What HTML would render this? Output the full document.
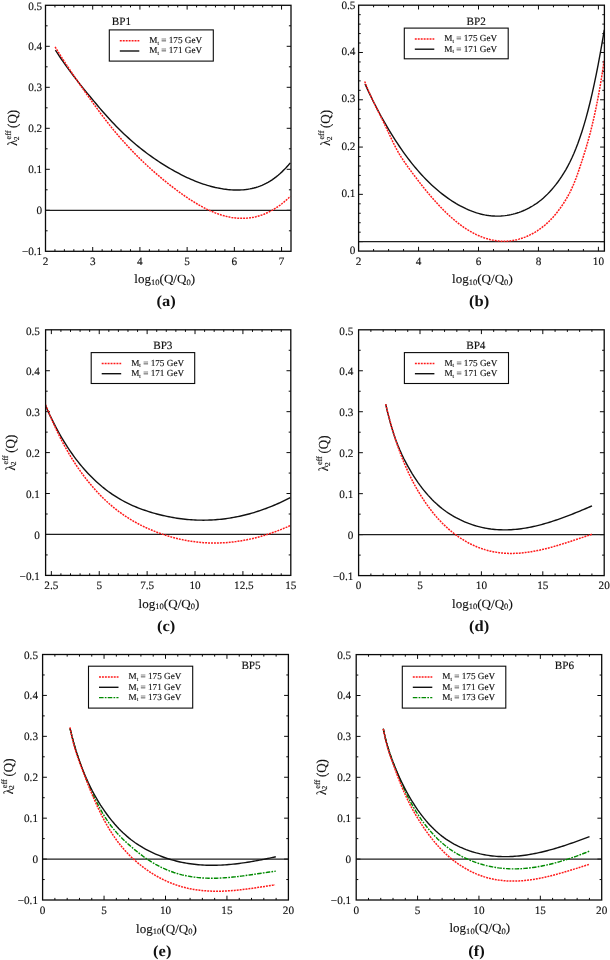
<!DOCTYPE html>
<html><head><meta charset="utf-8"><style>
html,body{margin:0;padding:0;background:#fff;}
body{width:610px;height:960px;overflow:hidden;}
svg{display:block;will-change:transform;}
text{font-family:"Liberation Serif", serif;fill:#111;stroke:#111;stroke-width:0.14px;text-rendering:geometricPrecision;}
.tk{font-size:11.2px;}
.ti{font-size:11.2px;}
.lg{font-size:9.2px;}
.ax{font-size:12.5px;}
.cp{font-size:15.4px;font-weight:bold;stroke-width:0;}
</style></head><body>
<svg width="610" height="960" viewBox="0 0 610 960">
<rect width="610" height="960" fill="#fff"/>
<g id="pa">
<path d="M54.94 251.3v-2.1M54.94 5.3v2.1M64.38 251.3v-2.1M64.38 5.3v2.1M73.83 251.3v-2.1M73.83 5.3v2.1M83.27 251.3v-2.1M83.27 5.3v2.1M92.71 251.3v-4.3M92.71 5.3v4.3M102.15 251.3v-2.1M102.15 5.3v2.1M111.6 251.3v-2.1M111.6 5.3v2.1M121.04 251.3v-2.1M121.04 5.3v2.1M130.48 251.3v-2.1M130.48 5.3v2.1M139.92 251.3v-4.3M139.92 5.3v4.3M149.37 251.3v-2.1M149.37 5.3v2.1M158.81 251.3v-2.1M158.81 5.3v2.1M168.25 251.3v-2.1M168.25 5.3v2.1M177.69 251.3v-2.1M177.69 5.3v2.1M187.13 251.3v-4.3M187.13 5.3v4.3M196.58 251.3v-2.1M196.58 5.3v2.1M206.02 251.3v-2.1M206.02 5.3v2.1M215.46 251.3v-2.1M215.46 5.3v2.1M224.9 251.3v-2.1M224.9 5.3v2.1M234.35 251.3v-4.3M234.35 5.3v4.3M243.79 251.3v-2.1M243.79 5.3v2.1M253.23 251.3v-2.1M253.23 5.3v2.1M262.67 251.3v-2.1M262.67 5.3v2.1M272.12 251.3v-2.1M272.12 5.3v2.1M281.56 251.3v-4.3M281.56 5.3v4.3M45.5 230.8h2.1M291 230.8h-2.1M45.5 210.3h4.3M291 210.3h-4.3M45.5 189.8h2.1M291 189.8h-2.1M45.5 169.3h4.3M291 169.3h-4.3M45.5 148.8h2.1M291 148.8h-2.1M45.5 128.3h4.3M291 128.3h-4.3M45.5 107.8h2.1M291 107.8h-2.1M45.5 87.3h4.3M291 87.3h-4.3M45.5 66.8h2.1M291 66.8h-2.1M45.5 46.3h4.3M291 46.3h-4.3M45.5 25.8h2.1M291 25.8h-2.1" stroke="#0a0a0a" stroke-width="1.0" fill="none"/>
<path d="M45.5 210.3H291" stroke="#1e1e1e" stroke-width="1.3" fill="none"/>
<path d="M55.4 50.09 L57.42 53.2 L59.45 56.25 L61.47 59.24 L63.5 62.17 L65.53 65.04 L67.55 67.86 L69.58 70.63 L71.6 73.35 L73.62 76.03 L75.65 78.67 L77.67 81.27 L79.7 83.84 L81.72 86.38 L83.75 88.89 L85.78 91.38 L87.8 93.85 L89.82 96.29 L91.85 98.73 L93.88 101.15 L95.9 103.56 L97.92 105.96 L99.95 108.34 L101.97 110.69 L104 113.02 L106.03 115.31 L108.05 117.57 L110.07 119.79 L112.1 121.96 L114.12 124.09 L116.15 126.18 L118.17 128.23 L120.2 130.24 L122.22 132.21 L124.25 134.14 L126.28 136.03 L128.3 137.88 L130.32 139.7 L132.35 141.48 L134.38 143.22 L136.4 144.93 L138.42 146.6 L140.45 148.23 L142.47 149.84 L144.5 151.4 L146.53 152.94 L148.55 154.44 L150.57 155.91 L152.6 157.36 L154.62 158.76 L156.65 160.14 L158.67 161.5 L160.7 162.82 L162.72 164.11 L164.75 165.38 L166.78 166.61 L168.8 167.83 L170.82 169.01 L172.85 170.17 L174.88 171.3 L176.9 172.41 L178.92 173.49 L180.95 174.54 L182.97 175.56 L185 176.55 L187.03 177.51 L189.05 178.44 L191.07 179.34 L193.1 180.21 L195.12 181.04 L197.15 181.84 L199.18 182.61 L201.2 183.34 L203.22 184.04 L205.25 184.7 L207.28 185.33 L209.3 185.92 L211.32 186.47 L213.35 186.99 L215.38 187.47 L217.4 187.9 L219.43 188.3 L221.45 188.66 L223.47 188.98 L225.5 189.25 L227.53 189.49 L229.55 189.68 L231.57 189.83 L233.6 189.93 L235.62 189.99 L237.65 190 L239.68 189.97 L241.7 189.88 L243.72 189.73 L245.75 189.52 L247.78 189.25 L249.8 188.91 L251.82 188.5 L253.85 188.02 L255.88 187.46 L257.9 186.82 L259.92 186.09 L261.95 185.28 L263.97 184.38 L266 183.38 L268.02 182.29 L270.05 181.09 L272.07 179.8 L274.1 178.39 L276.12 176.87 L278.15 175.24 L280.17 173.49 L282.2 171.62 L284.22 169.62 L286.25 167.49 L288.27 165.24 L290.3 162.85" stroke="#111" stroke-width="1.4" fill="none"/>
<path d="M55.1 46.91 L57.13 50.18 L59.16 53.41 L61.18 56.6 L63.21 59.76 L65.24 62.88 L67.27 65.96 L69.29 69.01 L71.32 72.04 L73.35 75.03 L75.38 78 L77.4 80.95 L79.43 83.87 L81.46 86.77 L83.49 89.66 L85.51 92.52 L87.54 95.37 L89.57 98.21 L91.6 101.04 L93.62 103.85 L95.65 106.65 L97.68 109.43 L99.71 112.18 L101.73 114.9 L103.76 117.58 L105.79 120.22 L107.82 122.82 L109.84 125.37 L111.87 127.89 L113.9 130.36 L115.93 132.79 L117.96 135.18 L119.98 137.53 L122.01 139.84 L124.04 142.12 L126.07 144.36 L128.09 146.56 L130.12 148.72 L132.15 150.85 L134.18 152.95 L136.2 155.01 L138.23 157.04 L140.26 159.04 L142.29 161 L144.31 162.94 L146.34 164.84 L148.37 166.71 L150.4 168.56 L152.42 170.38 L154.45 172.17 L156.48 173.93 L158.51 175.67 L160.53 177.38 L162.56 179.07 L164.59 180.74 L166.62 182.38 L168.64 184 L170.67 185.59 L172.7 187.17 L174.73 188.72 L176.76 190.25 L178.78 191.75 L180.81 193.22 L182.84 194.67 L184.87 196.08 L186.89 197.47 L188.92 198.82 L190.95 200.14 L192.98 201.42 L195 202.67 L197.03 203.88 L199.06 205.05 L201.09 206.18 L203.11 207.27 L205.14 208.31 L207.17 209.32 L209.2 210.27 L211.22 211.18 L213.25 212.04 L215.28 212.86 L217.31 213.62 L219.33 214.33 L221.36 214.99 L223.39 215.59 L225.42 216.13 L227.44 216.62 L229.47 217.05 L231.5 217.43 L233.53 217.74 L235.56 217.98 L237.58 218.17 L239.61 218.29 L241.64 218.34 L243.67 218.33 L245.69 218.24 L247.72 218.09 L249.75 217.86 L251.78 217.57 L253.8 217.19 L255.83 216.75 L257.86 216.22 L259.89 215.62 L261.91 214.94 L263.94 214.18 L265.97 213.34 L268 212.41 L270.02 211.4 L272.05 210.3 L274.08 209.12 L276.11 207.85 L278.13 206.48 L280.16 205.03 L282.19 203.49 L284.22 201.85 L286.24 200.11 L288.27 198.28 L290.3 196.36" stroke="#ff1a1a" stroke-width="1.5" stroke-dasharray="1.95 1" fill="none"/>
<rect x="45.5" y="5.3" width="245.5" height="246" stroke="#0a0a0a" stroke-width="1.3" fill="none"/>
<text x="45.5" y="264.9" text-anchor="middle" class="tk">2</text>
<text x="92.71" y="264.9" text-anchor="middle" class="tk">3</text>
<text x="139.92" y="264.9" text-anchor="middle" class="tk">4</text>
<text x="187.13" y="264.9" text-anchor="middle" class="tk">5</text>
<text x="234.35" y="264.9" text-anchor="middle" class="tk">6</text>
<text x="281.56" y="264.9" text-anchor="middle" class="tk">7</text>
<text x="42.2" y="255.1" text-anchor="end" class="tk">−0.1</text>
<text x="42.2" y="214.1" text-anchor="end" class="tk">0</text>
<text x="42.2" y="173.1" text-anchor="end" class="tk">0.1</text>
<text x="42.2" y="132.1" text-anchor="end" class="tk">0.2</text>
<text x="42.2" y="91.1" text-anchor="end" class="tk">0.3</text>
<text x="42.2" y="50.1" text-anchor="end" class="tk">0.4</text>
<text x="42.2" y="9.9" text-anchor="end" class="tk">0.5</text>
<text x="111.8" y="25.1" class="ti">BP1</text>
<rect x="109.3" y="29.9" width="104" height="31.2" stroke="#0a0a0a" stroke-width="1.1" fill="none"/>
<path d="M119.8 40.7H139.3" stroke="#ff1a1a" stroke-width="1.5" stroke-dasharray="1.95 1" fill="none"/>
<text x="149.3" y="43" class="lg">M<tspan font-size="5.5" dy="1.5">t</tspan><tspan dy="-1.5"> = 175 GeV</tspan></text>
<path d="M119.8 51H139.3" stroke="#111" stroke-width="1.4" fill="none"/>
<text x="149.3" y="53.3" class="lg">M<tspan font-size="5.5" dy="1.5">t</tspan><tspan dy="-1.5"> = 171 GeV</tspan></text>
<g transform="translate(17.1 128.1) rotate(-90)" class="ax"><text x="-17.6" y="0" transform="scale(1 1.1)">λ</text><text x="-11.4" y="-6.4" font-size="8.2">eff</text><text x="-12.2" y="1.4" font-size="7.6">2</text><text x="0.2" y="0" font-size="13" transform="scale(1 1.06)">(Q)</text></g>
<text transform="translate(134.3 283.2) scale(1.045 1)" class="ax">log<tspan font-size="8.2" dy="1.5">10</tspan><tspan dy="-1.5">(Q/Q</tspan><tspan font-size="8.2" dy="1.5">0</tspan><tspan dy="-1.5">)</tspan></text>
<text transform="translate(156.6 306.3) scale(1.07 1)" class="cp">(a)</text>
</g>
<g id="pb">
<path d="M373.59 251.1v-2.1M373.59 5.2v2.1M388.58 251.1v-2.1M388.58 5.2v2.1M403.56 251.1v-2.1M403.56 5.2v2.1M418.55 251.1v-4.3M418.55 5.2v4.3M433.54 251.1v-2.1M433.54 5.2v2.1M448.53 251.1v-2.1M448.53 5.2v2.1M463.51 251.1v-2.1M463.51 5.2v2.1M478.5 251.1v-4.3M478.5 5.2v4.3M493.49 251.1v-2.1M493.49 5.2v2.1M508.48 251.1v-2.1M508.48 5.2v2.1M523.47 251.1v-2.1M523.47 5.2v2.1M538.45 251.1v-4.3M538.45 5.2v4.3M553.44 251.1v-2.1M553.44 5.2v2.1M568.43 251.1v-2.1M568.43 5.2v2.1M583.42 251.1v-2.1M583.42 5.2v2.1M598.4 251.1v-4.3M598.4 5.2v4.3M358.6 241.64h4.3M604.4 241.64h-4.3M358.6 232.18h2.1M604.4 232.18h-2.1M358.6 222.73h2.1M604.4 222.73h-2.1M358.6 213.27h2.1M604.4 213.27h-2.1M358.6 203.81h2.1M604.4 203.81h-2.1M358.6 194.35h4.3M604.4 194.35h-4.3M358.6 184.9h2.1M604.4 184.9h-2.1M358.6 175.44h2.1M604.4 175.44h-2.1M358.6 165.98h2.1M604.4 165.98h-2.1M358.6 156.52h2.1M604.4 156.52h-2.1M358.6 147.07h4.3M604.4 147.07h-4.3M358.6 137.61h2.1M604.4 137.61h-2.1M358.6 128.15h2.1M604.4 128.15h-2.1M358.6 118.69h2.1M604.4 118.69h-2.1M358.6 109.23h2.1M604.4 109.23h-2.1M358.6 99.78h4.3M604.4 99.78h-4.3M358.6 90.32h2.1M604.4 90.32h-2.1M358.6 80.86h2.1M604.4 80.86h-2.1M358.6 71.4h2.1M604.4 71.4h-2.1M358.6 61.95h2.1M604.4 61.95h-2.1M358.6 52.49h4.3M604.4 52.49h-4.3M358.6 43.03h2.1M604.4 43.03h-2.1M358.6 33.57h2.1M604.4 33.57h-2.1M358.6 24.12h2.1M604.4 24.12h-2.1M358.6 14.66h2.1M604.4 14.66h-2.1" stroke="#0a0a0a" stroke-width="1.0" fill="none"/>
<path d="M358.6 241.64H604.4" stroke="#1e1e1e" stroke-width="1.3" fill="none"/>
<path d="M365 84.06 L367.03 88.42 L369.06 92.69 L371.08 96.87 L373.11 100.96 L375.14 104.96 L377.17 108.88 L379.2 112.71 L381.22 116.46 L383.25 120.12 L385.28 123.7 L387.31 127.2 L389.34 130.61 L391.36 133.95 L393.39 137.2 L395.42 140.38 L397.45 143.48 L399.48 146.5 L401.5 149.45 L403.53 152.32 L405.56 155.12 L407.59 157.85 L409.62 160.5 L411.64 163.08 L413.67 165.59 L415.7 168.03 L417.73 170.4 L419.76 172.71 L421.78 174.95 L423.81 177.12 L425.84 179.22 L427.87 181.27 L429.89 183.24 L431.92 185.16 L433.95 187.02 L435.98 188.81 L438.01 190.55 L440.03 192.22 L442.06 193.84 L444.09 195.4 L446.12 196.91 L448.15 198.36 L450.17 199.75 L452.2 201.1 L454.23 202.38 L456.26 203.62 L458.29 204.79 L460.31 205.92 L462.34 206.98 L464.37 207.99 L466.4 208.95 L468.43 209.84 L470.45 210.68 L472.48 211.46 L474.51 212.18 L476.54 212.84 L478.57 213.45 L480.59 213.99 L482.62 214.47 L484.65 214.89 L486.68 215.25 L488.71 215.55 L490.73 215.79 L492.76 215.96 L494.79 216.07 L496.82 216.12 L498.85 216.1 L500.87 216.02 L502.9 215.87 L504.93 215.66 L506.96 215.38 L508.99 215.04 L511.01 214.63 L513.04 214.15 L515.07 213.61 L517.1 212.99 L519.13 212.31 L521.15 211.56 L523.18 210.75 L525.21 209.86 L527.24 208.89 L529.27 207.85 L531.29 206.73 L533.32 205.52 L535.35 204.21 L537.38 202.81 L539.41 201.3 L541.43 199.68 L543.46 197.95 L545.49 196.1 L547.52 194.13 L549.54 192.02 L551.57 189.79 L553.6 187.41 L555.63 184.89 L557.66 182.21 L559.68 179.39 L561.71 176.39 L563.74 173.2 L565.77 169.79 L567.8 166.14 L569.82 162.21 L571.85 157.98 L573.88 153.43 L575.91 148.53 L577.94 143.25 L579.96 137.57 L581.99 131.45 L584.02 124.88 L586.05 117.84 L588.08 110.3 L590.1 102.23 L592.13 93.63 L594.16 84.46 L596.19 74.72 L598.22 64.4 L600.24 53.48 L602.27 41.94 L604.3 29.79" stroke="#111" stroke-width="1.4" fill="none"/>
<path d="M364.7 81.52 L366.73 86.61 L368.76 91.42 L370.79 96.01 L372.82 100.4 L374.85 104.65 L376.88 108.79 L378.91 112.87 L380.94 116.94 L382.97 121.03 L385 125.18 L387.03 129.45 L389.06 133.79 L391.09 138.14 L393.12 142.39 L395.14 146.46 L397.17 150.27 L399.2 153.81 L401.23 157.12 L403.26 160.23 L405.29 163.2 L407.32 166.06 L409.35 168.85 L411.38 171.62 L413.41 174.35 L415.44 177.05 L417.47 179.71 L419.5 182.34 L421.53 184.93 L423.56 187.49 L425.59 190 L427.62 192.46 L429.65 194.88 L431.68 197.26 L433.71 199.58 L435.74 201.86 L437.77 204.08 L439.8 206.25 L441.83 208.37 L443.86 210.42 L445.89 212.42 L447.92 214.36 L449.95 216.23 L451.98 218.04 L454.01 219.78 L456.03 221.46 L458.06 223.07 L460.09 224.62 L462.12 226.1 L464.15 227.52 L466.18 228.87 L468.21 230.15 L470.24 231.36 L472.27 232.5 L474.3 233.58 L476.33 234.59 L478.36 235.53 L480.39 236.39 L482.42 237.19 L484.45 237.92 L486.48 238.58 L488.51 239.16 L490.54 239.68 L492.57 240.12 L494.6 240.49 L496.63 240.79 L498.66 241.01 L500.69 241.16 L502.72 241.24 L504.75 241.24 L506.78 241.17 L508.81 241.02 L510.84 240.8 L512.87 240.5 L514.89 240.12 L516.92 239.67 L518.95 239.14 L520.98 238.54 L523.01 237.85 L525.04 237.09 L527.07 236.25 L529.1 235.33 L531.13 234.34 L533.16 233.26 L535.19 232.09 L537.22 230.83 L539.25 229.47 L541.28 228 L543.31 226.43 L545.34 224.73 L547.37 222.92 L549.4 220.97 L551.43 218.89 L553.46 216.67 L555.49 214.3 L557.52 211.77 L559.55 209.09 L561.58 206.24 L563.61 203.22 L565.64 200.01 L567.67 196.54 L569.7 192.75 L571.73 188.58 L573.76 183.98 L575.78 178.87 L577.81 173.28 L579.84 167.36 L581.87 161.23 L583.9 154.91 L585.93 148.29 L587.96 141.3 L589.99 133.83 L592.02 125.79 L594.05 117.11 L596.08 107.66 L598.11 97.37 L600.14 86.12 L602.17 73.8 L604.2 60.3" stroke="#ff1a1a" stroke-width="1.5" stroke-dasharray="1.95 1" fill="none"/>
<rect x="358.6" y="5.2" width="245.8" height="245.9" stroke="#0a0a0a" stroke-width="1.3" fill="none"/>
<text x="358.6" y="264.7" text-anchor="middle" class="tk">2</text>
<text x="418.55" y="264.7" text-anchor="middle" class="tk">4</text>
<text x="478.5" y="264.7" text-anchor="middle" class="tk">6</text>
<text x="538.45" y="264.7" text-anchor="middle" class="tk">8</text>
<text x="598.4" y="264.7" text-anchor="middle" class="tk">10</text>
<text x="355.4" y="196.85" text-anchor="end" class="tk">0.1</text>
<text x="355.4" y="149.57" text-anchor="end" class="tk">0.2</text>
<text x="355.4" y="102.28" text-anchor="end" class="tk">0.3</text>
<text x="355.4" y="54.99" text-anchor="end" class="tk">0.4</text>
<text x="355.4" y="8.5" text-anchor="end" class="tk">0.5</text>
<text x="355.4" y="253.6" text-anchor="end" class="tk">0</text>
<text x="466.5" y="24.8" class="ti">BP2</text>
<rect x="404.3" y="28.1" width="103.9" height="30.7" stroke="#0a0a0a" stroke-width="1.1" fill="none"/>
<path d="M414.8 38.9H434.3" stroke="#ff1a1a" stroke-width="1.5" stroke-dasharray="1.95 1" fill="none"/>
<text x="444.3" y="41.2" class="lg">M<tspan font-size="5.5" dy="1.5">t</tspan><tspan dy="-1.5"> = 175 GeV</tspan></text>
<path d="M414.8 49.2H434.3" stroke="#111" stroke-width="1.4" fill="none"/>
<text x="444.3" y="51.5" class="lg">M<tspan font-size="5.5" dy="1.5">t</tspan><tspan dy="-1.5"> = 171 GeV</tspan></text>
<g transform="translate(330.3 128.15) rotate(-90)" class="ax"><text x="-17.6" y="0" transform="scale(1 1.1)">λ</text><text x="-11.4" y="-6.4" font-size="8.2">eff</text><text x="-12.2" y="1.4" font-size="7.6">2</text><text x="0.2" y="0" font-size="13" transform="scale(1 1.06)">(Q)</text></g>
<text transform="translate(452 283.2) scale(1.045 1)" class="ax">log<tspan font-size="8.2" dy="1.5">10</tspan><tspan dy="-1.5">(Q/Q</tspan><tspan font-size="8.2" dy="1.5">0</tspan><tspan dy="-1.5">)</tspan></text>
<text transform="translate(469 306.3) scale(1.07 1)" class="cp">(b)</text>
</g>
<g id="pc">
<path d="M51.35 575.4v-4.3M51.35 329.8v4.3M60.92 575.4v-2.1M60.92 329.8v2.1M70.5 575.4v-2.1M70.5 329.8v2.1M80.08 575.4v-2.1M80.08 329.8v2.1M89.66 575.4v-2.1M89.66 329.8v2.1M99.24 575.4v-4.3M99.24 329.8v4.3M108.82 575.4v-2.1M108.82 329.8v2.1M118.39 575.4v-2.1M118.39 329.8v2.1M127.97 575.4v-2.1M127.97 329.8v2.1M137.55 575.4v-2.1M137.55 329.8v2.1M147.13 575.4v-4.3M147.13 329.8v4.3M156.71 575.4v-2.1M156.71 329.8v2.1M166.28 575.4v-2.1M166.28 329.8v2.1M175.86 575.4v-2.1M175.86 329.8v2.1M185.44 575.4v-2.1M185.44 329.8v2.1M195.02 575.4v-4.3M195.02 329.8v4.3M204.6 575.4v-2.1M204.6 329.8v2.1M214.18 575.4v-2.1M214.18 329.8v2.1M223.75 575.4v-2.1M223.75 329.8v2.1M233.33 575.4v-2.1M233.33 329.8v2.1M242.91 575.4v-4.3M242.91 329.8v4.3M252.49 575.4v-2.1M252.49 329.8v2.1M262.07 575.4v-2.1M262.07 329.8v2.1M271.64 575.4v-2.1M271.64 329.8v2.1M281.22 575.4v-2.1M281.22 329.8v2.1M45.6 554.93h2.1M290.8 554.93h-2.1M45.6 534.47h4.3M290.8 534.47h-4.3M45.6 514h2.1M290.8 514h-2.1M45.6 493.53h4.3M290.8 493.53h-4.3M45.6 473.07h2.1M290.8 473.07h-2.1M45.6 452.6h4.3M290.8 452.6h-4.3M45.6 432.13h2.1M290.8 432.13h-2.1M45.6 411.67h4.3M290.8 411.67h-4.3M45.6 391.2h2.1M290.8 391.2h-2.1M45.6 370.73h4.3M290.8 370.73h-4.3M45.6 350.27h2.1M290.8 350.27h-2.1" stroke="#0a0a0a" stroke-width="1.0" fill="none"/>
<path d="M45.6 534.47H290.8" stroke="#1e1e1e" stroke-width="1.3" fill="none"/>
<path d="M45.6 405.79 L47.62 410.31 L49.64 414.67 L51.67 418.87 L53.69 422.93 L55.71 426.85 L57.73 430.63 L59.76 434.27 L61.78 437.78 L63.8 441.17 L65.82 444.43 L67.85 447.57 L69.87 450.6 L71.89 453.52 L73.91 456.34 L75.93 459.05 L77.96 461.66 L79.98 464.19 L82 466.62 L84.02 468.97 L86.05 471.23 L88.07 473.43 L90.09 475.54 L92.11 477.58 L94.14 479.55 L96.16 481.45 L98.18 483.28 L100.2 485.05 L102.22 486.75 L104.25 488.38 L106.27 489.95 L108.29 491.47 L110.31 492.92 L112.34 494.32 L114.36 495.66 L116.38 496.95 L118.4 498.19 L120.43 499.37 L122.45 500.51 L124.47 501.6 L126.49 502.64 L128.51 503.64 L130.54 504.6 L132.56 505.52 L134.58 506.4 L136.6 507.24 L138.63 508.04 L140.65 508.81 L142.67 509.55 L144.69 510.26 L146.72 510.94 L148.74 511.59 L150.76 512.22 L152.78 512.82 L154.8 513.4 L156.83 513.96 L158.85 514.49 L160.87 515 L162.89 515.48 L164.92 515.94 L166.94 516.38 L168.96 516.79 L170.98 517.18 L173.01 517.55 L175.03 517.89 L177.05 518.21 L179.07 518.5 L181.1 518.78 L183.12 519.02 L185.14 519.25 L187.16 519.45 L189.18 519.62 L191.21 519.77 L193.23 519.9 L195.25 520.01 L197.27 520.09 L199.3 520.14 L201.32 520.17 L203.34 520.18 L205.36 520.17 L207.39 520.13 L209.41 520.06 L211.43 519.98 L213.45 519.87 L215.47 519.73 L217.5 519.57 L219.52 519.39 L221.54 519.18 L223.56 518.95 L225.59 518.69 L227.61 518.41 L229.63 518.1 L231.65 517.78 L233.68 517.42 L235.7 517.05 L237.72 516.64 L239.74 516.22 L241.76 515.77 L243.79 515.29 L245.81 514.8 L247.83 514.27 L249.85 513.73 L251.88 513.15 L253.9 512.56 L255.92 511.94 L257.94 511.29 L259.97 510.62 L261.99 509.93 L264.01 509.21 L266.03 508.47 L268.05 507.7 L270.08 506.91 L272.1 506.1 L274.12 505.26 L276.14 504.39 L278.17 503.5 L280.19 502.59 L282.21 501.65 L284.23 500.69 L286.26 499.7 L288.28 498.68 L290.3 497.65" stroke="#111" stroke-width="1.4" fill="none"/>
<path d="M45.6 404.71 L47.62 409.77 L49.64 414.66 L51.67 419.38 L53.69 423.94 L55.71 428.35 L57.73 432.6 L59.76 436.7 L61.78 440.66 L63.8 444.48 L65.82 448.17 L67.85 451.73 L69.87 455.17 L71.89 458.49 L73.91 461.7 L75.93 464.8 L77.96 467.8 L79.98 470.69 L82 473.5 L84.02 476.21 L86.05 478.84 L88.07 481.4 L90.09 483.87 L92.11 486.27 L94.14 488.59 L96.16 490.84 L98.18 493.02 L100.2 495.13 L102.22 497.17 L104.25 499.14 L106.27 501.05 L108.29 502.9 L110.31 504.68 L112.34 506.4 L114.36 508.07 L116.38 509.67 L118.4 511.22 L120.43 512.72 L122.45 514.16 L124.47 515.55 L126.49 516.9 L128.51 518.19 L130.54 519.44 L132.56 520.65 L134.58 521.81 L136.6 522.93 L138.63 524.01 L140.65 525.05 L142.67 526.05 L144.69 527.02 L146.72 527.96 L148.74 528.86 L150.76 529.73 L152.78 530.57 L154.8 531.39 L156.83 532.18 L158.85 532.93 L160.87 533.66 L162.89 534.37 L164.92 535.04 L166.94 535.69 L168.96 536.3 L170.98 536.89 L173.01 537.46 L175.03 537.99 L177.05 538.5 L179.07 538.98 L181.1 539.43 L183.12 539.86 L185.14 540.26 L187.16 540.63 L189.18 540.97 L191.21 541.29 L193.23 541.58 L195.25 541.84 L197.27 542.08 L199.3 542.29 L201.32 542.47 L203.34 542.63 L205.36 542.76 L207.39 542.87 L209.41 542.95 L211.43 543 L213.45 543.02 L215.47 543.02 L217.5 543 L219.52 542.95 L221.54 542.87 L223.56 542.77 L225.59 542.64 L227.61 542.49 L229.63 542.31 L231.65 542.1 L233.68 541.87 L235.7 541.62 L237.72 541.34 L239.74 541.03 L241.76 540.7 L243.79 540.35 L245.81 539.97 L247.83 539.57 L249.85 539.14 L251.88 538.69 L253.9 538.21 L255.92 537.71 L257.94 537.18 L259.97 536.63 L261.99 536.06 L264.01 535.46 L266.03 534.84 L268.05 534.19 L270.08 533.52 L272.1 532.83 L274.12 532.12 L276.14 531.38 L278.17 530.61 L280.19 529.83 L282.21 529.02 L284.23 528.18 L286.26 527.33 L288.28 526.45 L290.3 525.55" stroke="#ff1a1a" stroke-width="1.5" stroke-dasharray="1.95 1" fill="none"/>
<rect x="45.6" y="329.8" width="245.2" height="245.6" stroke="#0a0a0a" stroke-width="1.3" fill="none"/>
<text x="51.35" y="589" text-anchor="middle" class="tk">2.5</text>
<text x="99.24" y="589" text-anchor="middle" class="tk">5</text>
<text x="147.13" y="589" text-anchor="middle" class="tk">7.5</text>
<text x="195.02" y="589" text-anchor="middle" class="tk">10</text>
<text x="243.91" y="589" text-anchor="middle" class="tk">12.5</text>
<text x="290.8" y="589" text-anchor="middle" class="tk">15</text>
<text x="39.9" y="579.5" text-anchor="end" class="tk">−0.1</text>
<text x="39.9" y="538.57" text-anchor="end" class="tk">0</text>
<text x="39.9" y="497.63" text-anchor="end" class="tk">0.1</text>
<text x="39.9" y="456.7" text-anchor="end" class="tk">0.2</text>
<text x="39.9" y="415.77" text-anchor="end" class="tk">0.3</text>
<text x="39.9" y="374.83" text-anchor="end" class="tk">0.4</text>
<text x="39.9" y="334.7" text-anchor="end" class="tk">0.5</text>
<text x="153.2" y="349.1" class="ti">BP3</text>
<rect x="91.2" y="352.6" width="103.5" height="30.9" stroke="#0a0a0a" stroke-width="1.1" fill="none"/>
<path d="M101.7 363.4H121.2" stroke="#ff1a1a" stroke-width="1.5" stroke-dasharray="1.95 1" fill="none"/>
<text x="131.2" y="365.7" class="lg">M<tspan font-size="5.5" dy="1.5">t</tspan><tspan dy="-1.5"> = 175 GeV</tspan></text>
<path d="M101.7 373.7H121.2" stroke="#111" stroke-width="1.4" fill="none"/>
<text x="131.2" y="376" class="lg">M<tspan font-size="5.5" dy="1.5">t</tspan><tspan dy="-1.5"> = 171 GeV</tspan></text>
<g transform="translate(14.8 453) rotate(-90)" class="ax"><text x="-17.6" y="0" transform="scale(1 1.1)">λ</text><text x="-11.4" y="-6.4" font-size="8.2">eff</text><text x="-12.2" y="1.4" font-size="7.6">2</text><text x="0.2" y="0" font-size="13" transform="scale(1 1.06)">(Q)</text></g>
<text transform="translate(138.6 607.7) scale(1.045 1)" class="ax">log<tspan font-size="8.2" dy="1.5">10</tspan><tspan dy="-1.5">(Q/Q</tspan><tspan font-size="8.2" dy="1.5">0</tspan><tspan dy="-1.5">)</tspan></text>
<text transform="translate(157 630.7) scale(1.07 1)" class="cp">(c)</text>
</g>
<g id="pd">
<path d="M370.88 575.6v-2.1M370.88 329.8v2.1M383.16 575.6v-2.1M383.16 329.8v2.1M395.44 575.6v-2.1M395.44 329.8v2.1M407.72 575.6v-2.1M407.72 329.8v2.1M420 575.6v-4.3M420 329.8v4.3M432.28 575.6v-2.1M432.28 329.8v2.1M444.56 575.6v-2.1M444.56 329.8v2.1M456.84 575.6v-2.1M456.84 329.8v2.1M469.12 575.6v-2.1M469.12 329.8v2.1M481.4 575.6v-4.3M481.4 329.8v4.3M493.68 575.6v-2.1M493.68 329.8v2.1M505.96 575.6v-2.1M505.96 329.8v2.1M518.24 575.6v-2.1M518.24 329.8v2.1M530.52 575.6v-2.1M530.52 329.8v2.1M542.8 575.6v-4.3M542.8 329.8v4.3M555.08 575.6v-2.1M555.08 329.8v2.1M567.36 575.6v-2.1M567.36 329.8v2.1M579.64 575.6v-2.1M579.64 329.8v2.1M591.92 575.6v-2.1M591.92 329.8v2.1M358.6 555.12h2.1M604.2 555.12h-2.1M358.6 534.63h4.3M604.2 534.63h-4.3M358.6 514.15h2.1M604.2 514.15h-2.1M358.6 493.67h4.3M604.2 493.67h-4.3M358.6 473.18h2.1M604.2 473.18h-2.1M358.6 452.7h4.3M604.2 452.7h-4.3M358.6 432.22h2.1M604.2 432.22h-2.1M358.6 411.73h4.3M604.2 411.73h-4.3M358.6 391.25h2.1M604.2 391.25h-2.1M358.6 370.77h4.3M604.2 370.77h-4.3M358.6 350.28h2.1M604.2 350.28h-2.1" stroke="#0a0a0a" stroke-width="1.0" fill="none"/>
<path d="M358.6 534.63H604.2" stroke="#1e1e1e" stroke-width="1.3" fill="none"/>
<path d="M385.7 404.24 L387.72 412.87 L389.75 420.68 L391.77 427.76 L393.79 434.16 L395.81 439.97 L397.84 445.26 L399.86 450.09 L401.88 454.56 L403.9 458.71 L405.93 462.64 L407.95 466.38 L409.97 469.94 L411.99 473.34 L414.02 476.57 L416.04 479.65 L418.06 482.59 L420.08 485.39 L422.11 488.07 L424.13 490.62 L426.15 493.06 L428.17 495.38 L430.2 497.59 L432.22 499.69 L434.24 501.69 L436.26 503.59 L438.29 505.39 L440.31 507.1 L442.33 508.72 L444.35 510.26 L446.38 511.72 L448.4 513.1 L450.42 514.41 L452.44 515.64 L454.47 516.81 L456.49 517.92 L458.51 518.97 L460.53 519.97 L462.56 520.91 L464.58 521.8 L466.6 522.64 L468.62 523.43 L470.65 524.17 L472.67 524.86 L474.69 525.51 L476.71 526.1 L478.74 526.65 L480.76 527.15 L482.78 527.61 L484.8 528.03 L486.83 528.39 L488.85 528.72 L490.87 529.01 L492.9 529.25 L494.92 529.45 L496.94 529.61 L498.96 529.74 L500.99 529.82 L503.01 529.87 L505.03 529.88 L507.05 529.85 L509.08 529.79 L511.1 529.69 L513.12 529.56 L515.14 529.4 L517.17 529.2 L519.19 528.97 L521.21 528.71 L523.23 528.42 L525.26 528.11 L527.28 527.76 L529.3 527.38 L531.32 526.98 L533.35 526.55 L535.37 526.09 L537.39 525.61 L539.41 525.11 L541.44 524.58 L543.46 524.03 L545.48 523.45 L547.5 522.86 L549.53 522.24 L551.55 521.61 L553.57 520.95 L555.59 520.28 L557.62 519.59 L559.64 518.88 L561.66 518.16 L563.68 517.42 L565.71 516.67 L567.73 515.9 L569.75 515.12 L571.77 514.33 L573.8 513.52 L575.82 512.71 L577.84 511.88 L579.86 511.04 L581.89 510.2 L583.91 509.35 L585.93 508.49 L587.95 507.62 L589.98 506.75 L592 505.88" stroke="#111" stroke-width="1.4" fill="none"/>
<path d="M385.7 404.2 L387.72 412.43 L389.75 420.15 L391.77 427.38 L393.79 434.15 L395.81 440.5 L397.84 446.46 L399.86 452.07 L401.88 457.37 L403.9 462.37 L405.93 467.12 L407.95 471.62 L409.97 475.9 L411.99 479.96 L414.02 483.82 L416.04 487.5 L418.06 491.01 L420.08 494.36 L422.11 497.57 L424.13 500.65 L426.15 503.61 L428.17 506.44 L430.2 509.16 L432.22 511.76 L434.24 514.25 L436.26 516.63 L438.29 518.91 L440.31 521.09 L442.33 523.17 L444.35 525.16 L446.38 527.06 L448.4 528.87 L450.42 530.61 L452.44 532.26 L454.47 533.84 L456.49 535.35 L458.51 536.78 L460.53 538.15 L462.56 539.45 L464.58 540.69 L466.6 541.86 L468.62 542.97 L470.65 544.01 L472.67 544.99 L474.69 545.91 L476.71 546.78 L478.74 547.58 L480.76 548.33 L482.78 549.02 L484.8 549.65 L486.83 550.23 L488.85 550.76 L490.87 551.24 L492.9 551.66 L494.92 552.04 L496.94 552.37 L498.96 552.65 L500.99 552.89 L503.01 553.08 L505.03 553.23 L507.05 553.33 L509.08 553.4 L511.1 553.42 L513.12 553.4 L515.14 553.35 L517.17 553.26 L519.19 553.13 L521.21 552.97 L523.23 552.78 L525.26 552.55 L527.28 552.29 L529.3 552 L531.32 551.68 L533.35 551.34 L535.37 550.97 L537.39 550.57 L539.41 550.15 L541.44 549.7 L543.46 549.23 L545.48 548.75 L547.5 548.24 L549.53 547.71 L551.55 547.16 L553.57 546.6 L555.59 546.02 L557.62 545.43 L559.64 544.83 L561.66 544.21 L563.68 543.58 L565.71 542.94 L567.73 542.3 L569.75 541.64 L571.77 540.98 L573.8 540.32 L575.82 539.65 L577.84 538.97 L579.86 538.3 L581.89 537.62 L583.91 536.95 L585.93 536.27 L587.95 535.6 L589.98 534.94 L592 534.27" stroke="#ff1a1a" stroke-width="1.5" stroke-dasharray="1.95 1" fill="none"/>
<rect x="358.6" y="329.8" width="245.6" height="245.8" stroke="#0a0a0a" stroke-width="1.3" fill="none"/>
<text x="358.6" y="589.2" text-anchor="middle" class="tk">0</text>
<text x="420" y="589.2" text-anchor="middle" class="tk">5</text>
<text x="481.4" y="589.2" text-anchor="middle" class="tk">10</text>
<text x="542.8" y="589.2" text-anchor="middle" class="tk">15</text>
<text x="604.2" y="589.2" text-anchor="middle" class="tk">20</text>
<text x="353.35" y="579.8" text-anchor="end" class="tk">−0.1</text>
<text x="353.35" y="538.83" text-anchor="end" class="tk">0</text>
<text x="353.35" y="497.87" text-anchor="end" class="tk">0.1</text>
<text x="353.35" y="456.9" text-anchor="end" class="tk">0.2</text>
<text x="353.35" y="415.93" text-anchor="end" class="tk">0.3</text>
<text x="353.35" y="374.97" text-anchor="end" class="tk">0.4</text>
<text x="353.35" y="334.8" text-anchor="end" class="tk">0.5</text>
<text x="466.2" y="349.1" class="ti">BP4</text>
<rect x="404.4" y="352.6" width="104.1" height="30.9" stroke="#0a0a0a" stroke-width="1.1" fill="none"/>
<path d="M414.9 363.4H434.4" stroke="#ff1a1a" stroke-width="1.5" stroke-dasharray="1.95 1" fill="none"/>
<text x="444.4" y="365.7" class="lg">M<tspan font-size="5.5" dy="1.5">t</tspan><tspan dy="-1.5"> = 175 GeV</tspan></text>
<path d="M414.9 373.7H434.4" stroke="#111" stroke-width="1.4" fill="none"/>
<text x="444.4" y="376" class="lg">M<tspan font-size="5.5" dy="1.5">t</tspan><tspan dy="-1.5"> = 171 GeV</tspan></text>
<g transform="translate(328.25 453.7) rotate(-90)" class="ax"><text x="-17.6" y="0" transform="scale(1 1.1)">λ</text><text x="-11.4" y="-6.4" font-size="8.2">eff</text><text x="-12.2" y="1.4" font-size="7.6">2</text><text x="0.2" y="0" font-size="13" transform="scale(1 1.06)">(Q)</text></g>
<text transform="translate(452 607.9) scale(1.045 1)" class="ax">log<tspan font-size="8.2" dy="1.5">10</tspan><tspan dy="-1.5">(Q/Q</tspan><tspan font-size="8.2" dy="1.5">0</tspan><tspan dy="-1.5">)</tspan></text>
<text transform="translate(469 630.7) scale(1.07 1)" class="cp">(d)</text>
</g>
<g id="pe">
<path d="M54.89 900v-2.1M54.89 654.5v2.1M67.18 900v-2.1M67.18 654.5v2.1M79.47 900v-2.1M79.47 654.5v2.1M91.76 900v-2.1M91.76 654.5v2.1M104.05 900v-4.3M104.05 654.5v4.3M116.34 900v-2.1M116.34 654.5v2.1M128.63 900v-2.1M128.63 654.5v2.1M140.92 900v-2.1M140.92 654.5v2.1M153.21 900v-2.1M153.21 654.5v2.1M165.5 900v-4.3M165.5 654.5v4.3M177.79 900v-2.1M177.79 654.5v2.1M190.08 900v-2.1M190.08 654.5v2.1M202.37 900v-2.1M202.37 654.5v2.1M214.66 900v-2.1M214.66 654.5v2.1M226.95 900v-4.3M226.95 654.5v4.3M239.24 900v-2.1M239.24 654.5v2.1M251.53 900v-2.1M251.53 654.5v2.1M263.82 900v-2.1M263.82 654.5v2.1M276.11 900v-2.1M276.11 654.5v2.1M42.6 879.54h2.1M288.4 879.54h-2.1M42.6 859.08h4.3M288.4 859.08h-4.3M42.6 838.62h2.1M288.4 838.62h-2.1M42.6 818.17h4.3M288.4 818.17h-4.3M42.6 797.71h2.1M288.4 797.71h-2.1M42.6 777.25h4.3M288.4 777.25h-4.3M42.6 756.79h2.1M288.4 756.79h-2.1M42.6 736.33h4.3M288.4 736.33h-4.3M42.6 715.88h2.1M288.4 715.88h-2.1M42.6 695.42h4.3M288.4 695.42h-4.3M42.6 674.96h2.1M288.4 674.96h-2.1" stroke="#0a0a0a" stroke-width="1.0" fill="none"/>
<path d="M42.6 859.08H288.4" stroke="#1e1e1e" stroke-width="1.3" fill="none"/>
<path d="M70 728.38 L72.04 736.5 L74.08 743.97 L76.11 750.85 L78.15 757.23 L80.19 763.19 L82.23 768.79 L84.26 774.09 L86.3 779.13 L88.34 783.97 L90.38 788.63 L92.41 793.13 L94.45 797.47 L96.49 801.63 L98.53 805.62 L100.56 809.42 L102.6 813.03 L104.64 816.45 L106.68 819.66 L108.71 822.66 L110.75 825.47 L112.79 828.1 L114.83 830.57 L116.87 832.89 L118.9 835.09 L120.94 837.19 L122.98 839.2 L125.02 841.13 L127.05 843.02 L129.09 844.86 L131.13 846.65 L133.17 848.4 L135.2 850.11 L137.24 851.77 L139.28 853.38 L141.32 854.93 L143.35 856.44 L145.39 857.9 L147.43 859.3 L149.47 860.64 L151.5 861.93 L153.54 863.16 L155.58 864.34 L157.62 865.45 L159.66 866.51 L161.69 867.52 L163.73 868.48 L165.77 869.38 L167.81 870.23 L169.84 871.03 L171.88 871.78 L173.92 872.49 L175.96 873.14 L177.99 873.75 L180.03 874.32 L182.07 874.85 L184.11 875.33 L186.14 875.77 L188.18 876.17 L190.22 876.53 L192.26 876.85 L194.3 877.14 L196.33 877.39 L198.37 877.61 L200.41 877.79 L202.45 877.94 L204.48 878.06 L206.52 878.15 L208.56 878.21 L210.6 878.24 L212.63 878.25 L214.67 878.23 L216.71 878.18 L218.75 878.12 L220.78 878.02 L222.82 877.91 L224.86 877.78 L226.9 877.63 L228.93 877.46 L230.97 877.27 L233.01 877.07 L235.05 876.85 L237.09 876.62 L239.12 876.38 L241.16 876.13 L243.2 875.86 L245.24 875.59 L247.27 875.31 L249.31 875.02 L251.35 874.72 L253.39 874.42 L255.42 874.12 L257.46 873.81 L259.5 873.51 L261.54 873.2 L263.57 872.89 L265.61 872.59 L267.65 872.28 L269.69 871.98 L271.72 871.69 L273.76 871.4 L275.8 871.12" stroke="#008a00" stroke-width="1.4" stroke-dasharray="4.6 1.2 1.7 1.2" fill="none"/>
<path d="M70 728.23 L72.04 736.63 L74.08 744.2 L76.11 751.04 L78.15 757.29 L80.19 763.05 L82.23 768.45 L84.26 773.52 L86.3 778.29 L88.34 782.78 L90.38 787.01 L92.41 791.01 L94.45 794.78 L96.49 798.36 L98.53 801.77 L100.56 805.02 L102.6 808.13 L104.64 811.12 L106.68 813.98 L108.71 816.71 L110.75 819.32 L112.79 821.82 L114.83 824.21 L116.87 826.49 L118.9 828.66 L120.94 830.74 L122.98 832.71 L125.02 834.59 L127.05 836.38 L129.09 838.09 L131.13 839.71 L133.17 841.25 L135.2 842.72 L137.24 844.11 L139.28 845.44 L141.32 846.7 L143.35 847.9 L145.39 849.04 L147.43 850.13 L149.47 851.17 L151.5 852.16 L153.54 853.11 L155.58 854.02 L157.62 854.89 L159.66 855.71 L161.69 856.5 L163.73 857.25 L165.77 857.97 L167.81 858.64 L169.84 859.28 L171.88 859.88 L173.92 860.45 L175.96 860.98 L177.99 861.48 L180.03 861.95 L182.07 862.38 L184.11 862.78 L186.14 863.14 L188.18 863.48 L190.22 863.78 L192.26 864.06 L194.3 864.31 L196.33 864.52 L198.37 864.71 L200.41 864.87 L202.45 865 L204.48 865.11 L206.52 865.19 L208.56 865.25 L210.6 865.28 L212.63 865.29 L214.67 865.27 L216.71 865.23 L218.75 865.17 L220.78 865.08 L222.82 864.98 L224.86 864.85 L226.9 864.71 L228.93 864.54 L230.97 864.36 L233.01 864.16 L235.05 863.94 L237.09 863.7 L239.12 863.45 L241.16 863.18 L243.2 862.9 L245.24 862.6 L247.27 862.29 L249.31 861.97 L251.35 861.63 L253.39 861.28 L255.42 860.92 L257.46 860.54 L259.5 860.16 L261.54 859.77 L263.57 859.36 L265.61 858.95 L267.65 858.53 L269.69 858.11 L271.72 857.68 L273.76 857.24 L275.8 856.79" stroke="#111" stroke-width="1.4" fill="none"/>
<path d="M70 727.45 L72.03 737.4 L74.06 745.57 L76.09 752.42 L78.12 758.37 L80.15 763.86 L82.18 769.27 L84.21 774.62 L86.24 779.89 L88.27 785.06 L90.3 790.1 L92.33 795 L94.36 799.75 L96.39 804.32 L98.42 808.73 L100.45 812.94 L102.48 816.96 L104.5 820.79 L106.53 824.44 L108.56 827.92 L110.59 831.23 L112.62 834.38 L114.65 837.37 L116.68 840.22 L118.71 842.93 L120.74 845.51 L122.77 847.96 L124.8 850.3 L126.83 852.52 L128.86 854.64 L130.89 856.66 L132.92 858.59 L134.95 860.43 L136.98 862.2 L139.01 863.9 L141.04 865.53 L143.07 867.1 L145.1 868.62 L147.13 870.07 L149.16 871.47 L151.19 872.81 L153.22 874.09 L155.25 875.32 L157.28 876.49 L159.31 877.61 L161.34 878.67 L163.37 879.69 L165.4 880.65 L167.43 881.57 L169.46 882.44 L171.49 883.26 L173.51 884.03 L175.54 884.76 L177.57 885.44 L179.6 886.08 L181.63 886.68 L183.66 887.23 L185.69 887.74 L187.72 888.22 L189.75 888.65 L191.78 889.05 L193.81 889.41 L195.84 889.74 L197.87 890.03 L199.9 890.29 L201.93 890.51 L203.96 890.7 L205.99 890.86 L208.02 890.99 L210.05 891.09 L212.08 891.17 L214.11 891.21 L216.14 891.23 L218.17 891.23 L220.2 891.2 L222.23 891.15 L224.26 891.07 L226.29 890.98 L228.32 890.86 L230.35 890.73 L232.38 890.57 L234.41 890.4 L236.44 890.22 L238.47 890.01 L240.5 889.8 L242.52 889.57 L244.55 889.32 L246.58 889.07 L248.61 888.8 L250.64 888.53 L252.67 888.25 L254.7 887.96 L256.73 887.66 L258.76 887.36 L260.79 887.05 L262.82 886.74 L264.85 886.42 L266.88 886.11 L268.91 885.79 L270.94 885.47 L272.97 885.16 L275 884.85" stroke="#ff1a1a" stroke-width="1.5" stroke-dasharray="1.95 1" fill="none"/>
<rect x="42.6" y="654.5" width="245.8" height="245.5" stroke="#0a0a0a" stroke-width="1.3" fill="none"/>
<text x="42.6" y="913.6" text-anchor="middle" class="tk">0</text>
<text x="104.05" y="913.6" text-anchor="middle" class="tk">5</text>
<text x="165.5" y="913.6" text-anchor="middle" class="tk">10</text>
<text x="226.95" y="913.6" text-anchor="middle" class="tk">15</text>
<text x="288.4" y="913.6" text-anchor="middle" class="tk">20</text>
<text x="38" y="903.5" text-anchor="end" class="tk">−0.1</text>
<text x="38" y="862.58" text-anchor="end" class="tk">0</text>
<text x="38" y="821.67" text-anchor="end" class="tk">0.1</text>
<text x="38" y="780.75" text-anchor="end" class="tk">0.2</text>
<text x="38" y="739.83" text-anchor="end" class="tk">0.3</text>
<text x="38" y="698.92" text-anchor="end" class="tk">0.4</text>
<text x="38" y="658.8" text-anchor="end" class="tk">0.5</text>
<text x="241.4" y="668.8" class="ti">BP5</text>
<rect x="88.5" y="666.2" width="104.2" height="41.9" stroke="#0a0a0a" stroke-width="1.1" fill="none"/>
<path d="M99 677H118.5" stroke="#ff1a1a" stroke-width="1.5" stroke-dasharray="1.95 1" fill="none"/>
<text x="128.5" y="679.3" class="lg">M<tspan font-size="5.5" dy="1.5">t</tspan><tspan dy="-1.5"> = 175 GeV</tspan></text>
<path d="M99 687.3H118.5" stroke="#111" stroke-width="1.4" fill="none"/>
<text x="128.5" y="689.6" class="lg">M<tspan font-size="5.5" dy="1.5">t</tspan><tspan dy="-1.5"> = 171 GeV</tspan></text>
<path d="M99 697.6H118.5" stroke="#008a00" stroke-width="1.4" stroke-dasharray="4.6 1.2 1.7 1.2" fill="none"/>
<text x="128.5" y="699.9" class="lg">M<tspan font-size="5.5" dy="1.5">t</tspan><tspan dy="-1.5"> = 173 GeV</tspan></text>
<g transform="translate(12.9 776.75) rotate(-90)" class="ax"><text x="-17.6" y="0" transform="scale(1 1.1)">λ</text><text x="-11.4" y="-6.4" font-size="8.2">eff</text><text x="-12.2" y="1.4" font-size="7.6">2</text><text x="0.2" y="0" font-size="13" transform="scale(1 1.06)">(Q)</text></g>
<text transform="translate(136.1 932.8) scale(1.045 1)" class="ax">log<tspan font-size="8.2" dy="1.5">10</tspan><tspan dy="-1.5">(Q/Q</tspan><tspan font-size="8.2" dy="1.5">0</tspan><tspan dy="-1.5">)</tspan></text>
<text transform="translate(153.1 955.9) scale(1.07 1)" class="cp">(e)</text>
</g>
<g id="pf">
<path d="M368.47 900v-2.1M368.47 654.6v2.1M380.75 900v-2.1M380.75 654.6v2.1M393.02 900v-2.1M393.02 654.6v2.1M405.3 900v-2.1M405.3 654.6v2.1M417.57 900v-4.3M417.57 654.6v4.3M429.85 900v-2.1M429.85 654.6v2.1M442.12 900v-2.1M442.12 654.6v2.1M454.4 900v-2.1M454.4 654.6v2.1M466.68 900v-2.1M466.68 654.6v2.1M478.95 900v-4.3M478.95 654.6v4.3M491.23 900v-2.1M491.23 654.6v2.1M503.5 900v-2.1M503.5 654.6v2.1M515.78 900v-2.1M515.78 654.6v2.1M528.05 900v-2.1M528.05 654.6v2.1M540.33 900v-4.3M540.33 654.6v4.3M552.6 900v-2.1M552.6 654.6v2.1M564.88 900v-2.1M564.88 654.6v2.1M577.15 900v-2.1M577.15 654.6v2.1M589.43 900v-2.1M589.43 654.6v2.1M356.2 879.55h2.1M601.7 879.55h-2.1M356.2 859.1h4.3M601.7 859.1h-4.3M356.2 838.65h2.1M601.7 838.65h-2.1M356.2 818.2h4.3M601.7 818.2h-4.3M356.2 797.75h2.1M601.7 797.75h-2.1M356.2 777.3h4.3M601.7 777.3h-4.3M356.2 756.85h2.1M601.7 756.85h-2.1M356.2 736.4h4.3M601.7 736.4h-4.3M356.2 715.95h2.1M601.7 715.95h-2.1M356.2 695.5h4.3M601.7 695.5h-4.3M356.2 675.05h2.1M601.7 675.05h-2.1" stroke="#0a0a0a" stroke-width="1.0" fill="none"/>
<path d="M356.2 859.1H601.7" stroke="#1e1e1e" stroke-width="1.3" fill="none"/>
<path d="M383.3 729.03 L385.32 737.78 L387.34 745.27 L389.36 751.79 L391.39 757.61 L393.41 762.99 L395.43 768.21 L397.45 773.33 L399.47 778.32 L401.49 783.13 L403.52 787.72 L405.54 792.08 L407.56 796.23 L409.58 800.17 L411.6 803.91 L413.62 807.46 L415.65 810.85 L417.67 814.07 L419.69 817.13 L421.71 820.06 L423.73 822.85 L425.75 825.52 L427.77 828.07 L429.8 830.5 L431.82 832.82 L433.84 835.03 L435.86 837.14 L437.88 839.14 L439.9 841.04 L441.93 842.85 L443.95 844.57 L445.97 846.2 L447.99 847.75 L450.01 849.22 L452.03 850.61 L454.05 851.92 L456.08 853.17 L458.1 854.36 L460.12 855.48 L462.14 856.54 L464.16 857.54 L466.18 858.5 L468.21 859.41 L470.23 860.27 L472.25 861.09 L474.27 861.86 L476.29 862.59 L478.31 863.28 L480.34 863.92 L482.36 864.52 L484.38 865.08 L486.4 865.6 L488.42 866.07 L490.44 866.51 L492.46 866.91 L494.49 867.27 L496.51 867.59 L498.53 867.88 L500.55 868.12 L502.57 868.33 L504.59 868.51 L506.62 868.65 L508.64 868.75 L510.66 868.83 L512.68 868.86 L514.7 868.87 L516.72 868.84 L518.75 868.78 L520.77 868.69 L522.79 868.57 L524.81 868.42 L526.83 868.24 L528.85 868.03 L530.87 867.79 L532.9 867.52 L534.92 867.23 L536.94 866.91 L538.96 866.56 L540.98 866.19 L543 865.79 L545.03 865.37 L547.05 864.93 L549.07 864.46 L551.09 863.97 L553.11 863.46 L555.13 862.92 L557.15 862.37 L559.18 861.8 L561.2 861.2 L563.22 860.59 L565.24 859.95 L567.26 859.3 L569.28 858.64 L571.31 857.95 L573.33 857.25 L575.35 856.54 L577.37 855.8 L579.39 855.06 L581.41 854.3 L583.44 853.52 L585.46 852.74 L587.48 851.94 L589.5 851.13" stroke="#008a00" stroke-width="1.4" stroke-dasharray="4.6 1.2 1.7 1.2" fill="none"/>
<path d="M383.3 728.61 L385.32 738.27 L387.34 745.78 L389.36 752.31 L391.39 758.1 L393.41 763.37 L395.43 768.32 L397.45 773.03 L399.47 777.53 L401.49 781.82 L403.52 785.91 L405.54 789.82 L407.56 793.54 L409.58 797.09 L411.6 800.49 L413.62 803.73 L415.65 806.84 L417.67 809.81 L419.69 812.64 L421.71 815.34 L423.73 817.92 L425.75 820.38 L427.77 822.72 L429.8 824.94 L431.82 827.06 L433.84 829.06 L435.86 830.96 L437.88 832.77 L439.9 834.47 L441.93 836.09 L443.95 837.61 L445.97 839.05 L447.99 840.41 L450.01 841.69 L452.03 842.9 L454.05 844.04 L456.08 845.11 L458.1 846.12 L460.12 847.07 L462.14 847.96 L464.16 848.8 L466.18 849.6 L468.21 850.35 L470.23 851.05 L472.25 851.71 L474.27 852.32 L476.29 852.89 L478.31 853.41 L480.34 853.9 L482.36 854.34 L484.38 854.74 L486.4 855.1 L488.42 855.42 L490.44 855.7 L492.46 855.95 L494.49 856.16 L496.51 856.33 L498.53 856.46 L500.55 856.56 L502.57 856.62 L504.59 856.65 L506.62 856.65 L508.64 856.62 L510.66 856.55 L512.68 856.45 L514.7 856.32 L516.72 856.16 L518.75 855.98 L520.77 855.76 L522.79 855.52 L524.81 855.25 L526.83 854.95 L528.85 854.63 L530.87 854.29 L532.9 853.92 L534.92 853.52 L536.94 853.11 L538.96 852.67 L540.98 852.21 L543 851.73 L545.03 851.23 L547.05 850.71 L549.07 850.17 L551.09 849.62 L553.11 849.05 L555.13 848.46 L557.15 847.86 L559.18 847.24 L561.2 846.61 L563.22 845.96 L565.24 845.3 L567.26 844.63 L569.28 843.95 L571.31 843.26 L573.33 842.55 L575.35 841.84 L577.37 841.12 L579.39 840.39 L581.41 839.66 L583.44 838.91 L585.46 838.17 L587.48 837.41 L589.5 836.66" stroke="#111" stroke-width="1.4" fill="none"/>
<path d="M383.3 728.94 L385.32 738.67 L387.34 746.68 L389.36 753.44 L391.39 759.36 L393.41 764.89 L395.43 770.36 L397.45 775.75 L399.47 781 L401.49 786.03 L403.52 790.8 L405.54 795.32 L407.56 799.61 L409.58 803.69 L411.6 807.57 L413.62 811.27 L415.65 814.81 L417.67 818.2 L419.69 821.46 L421.71 824.61 L423.73 827.63 L425.75 830.55 L427.77 833.35 L429.8 836.04 L431.82 838.63 L433.84 841.12 L435.86 843.5 L437.88 845.79 L439.9 847.98 L441.93 850.08 L443.95 852.09 L445.97 854.01 L447.99 855.84 L450.01 857.6 L452.03 859.27 L454.05 860.86 L456.08 862.38 L458.1 863.82 L460.12 865.2 L462.14 866.5 L464.16 867.74 L466.18 868.92 L468.21 870.03 L470.23 871.09 L472.25 872.08 L474.27 873.02 L476.29 873.9 L478.31 874.72 L480.34 875.49 L482.36 876.2 L484.38 876.86 L486.4 877.46 L488.42 878.02 L490.44 878.53 L492.46 878.98 L494.49 879.39 L496.51 879.75 L498.53 880.07 L500.55 880.34 L502.57 880.57 L504.59 880.76 L506.62 880.9 L508.64 881 L510.66 881.07 L512.68 881.09 L514.7 881.08 L516.72 881.03 L518.75 880.95 L520.77 880.84 L522.79 880.69 L524.81 880.5 L526.83 880.29 L528.85 880.05 L530.87 879.78 L532.9 879.48 L534.92 879.16 L536.94 878.81 L538.96 878.43 L540.98 878.03 L543 877.61 L545.03 877.17 L547.05 876.71 L549.07 876.23 L551.09 875.73 L553.11 875.21 L555.13 874.68 L557.15 874.14 L559.18 873.57 L561.2 873 L563.22 872.42 L565.24 871.82 L567.26 871.22 L569.28 870.6 L571.31 869.98 L573.33 869.36 L575.35 868.73 L577.37 868.09 L579.39 867.45 L581.41 866.81 L583.44 866.17 L585.46 865.53 L587.48 864.88 L589.5 864.25" stroke="#ff1a1a" stroke-width="1.5" stroke-dasharray="1.95 1" fill="none"/>
<rect x="356.2" y="654.6" width="245.5" height="245.4" stroke="#0a0a0a" stroke-width="1.3" fill="none"/>
<text x="356.2" y="913.6" text-anchor="middle" class="tk">0</text>
<text x="417.57" y="913.6" text-anchor="middle" class="tk">5</text>
<text x="478.95" y="913.6" text-anchor="middle" class="tk">10</text>
<text x="540.33" y="913.6" text-anchor="middle" class="tk">15</text>
<text x="601.7" y="913.6" text-anchor="middle" class="tk">20</text>
<text x="351.15" y="903.6" text-anchor="end" class="tk">−0.1</text>
<text x="351.15" y="862.7" text-anchor="end" class="tk">0</text>
<text x="351.15" y="821.8" text-anchor="end" class="tk">0.1</text>
<text x="351.15" y="780.9" text-anchor="end" class="tk">0.2</text>
<text x="351.15" y="740" text-anchor="end" class="tk">0.3</text>
<text x="351.15" y="699.1" text-anchor="end" class="tk">0.4</text>
<text x="351.15" y="659" text-anchor="end" class="tk">0.5</text>
<text x="554.8" y="668.6" class="ti">BP6</text>
<rect x="402.3" y="666.2" width="103.5" height="41.9" stroke="#0a0a0a" stroke-width="1.1" fill="none"/>
<path d="M412.8 677H432.3" stroke="#ff1a1a" stroke-width="1.5" stroke-dasharray="1.95 1" fill="none"/>
<text x="442.3" y="679.3" class="lg">M<tspan font-size="5.5" dy="1.5">t</tspan><tspan dy="-1.5"> = 175 GeV</tspan></text>
<path d="M412.8 687.3H432.3" stroke="#111" stroke-width="1.4" fill="none"/>
<text x="442.3" y="689.6" class="lg">M<tspan font-size="5.5" dy="1.5">t</tspan><tspan dy="-1.5"> = 171 GeV</tspan></text>
<path d="M412.8 697.6H432.3" stroke="#008a00" stroke-width="1.4" stroke-dasharray="4.6 1.2 1.7 1.2" fill="none"/>
<text x="442.3" y="699.9" class="lg">M<tspan font-size="5.5" dy="1.5">t</tspan><tspan dy="-1.5"> = 173 GeV</tspan></text>
<g transform="translate(326.05 777.3) rotate(-90)" class="ax"><text x="-17.6" y="0" transform="scale(1 1.1)">λ</text><text x="-11.4" y="-6.4" font-size="8.2">eff</text><text x="-12.2" y="1.4" font-size="7.6">2</text><text x="0.2" y="0" font-size="13" transform="scale(1 1.06)">(Q)</text></g>
<text transform="translate(449.4 932.4) scale(1.045 1)" class="ax">log<tspan font-size="8.2" dy="1.5">10</tspan><tspan dy="-1.5">(Q/Q</tspan><tspan font-size="8.2" dy="1.5">0</tspan><tspan dy="-1.5">)</tspan></text>
<text transform="translate(468.2 955.9) scale(1.07 1)" class="cp">(f)</text>
</g>
</svg>
</body></html>
